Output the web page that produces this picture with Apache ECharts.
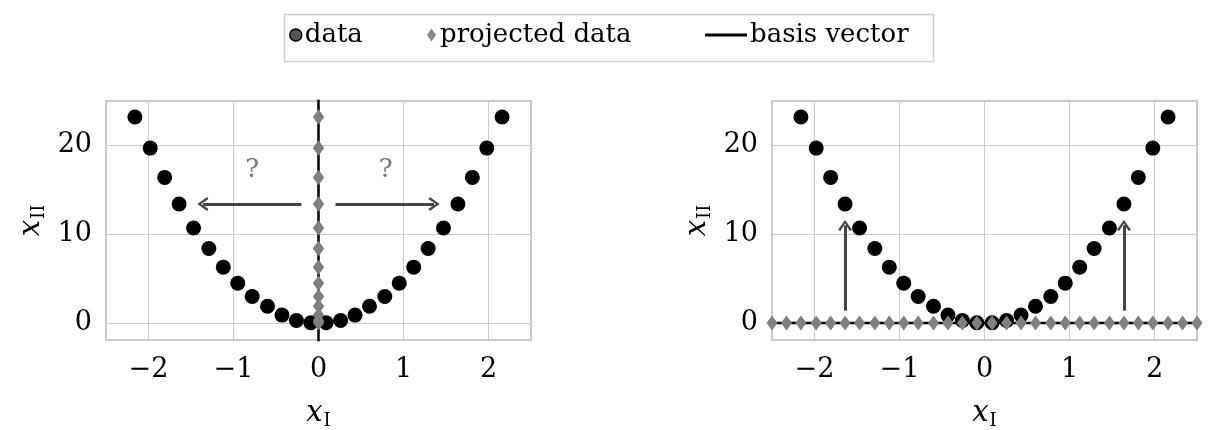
<!DOCTYPE html>
<html>
<head>
<meta charset="utf-8">
<script src="https://cdn.jsdelivr.net/npm/echarts@6/dist/echarts.min.js"></script>
<style>
  html, body { margin: 0; background: #fff; }
  #chart { width: 1215px; height: 430px; }
</style>
</head>
<body>
<div id="chart"></div>
<script>
// data (points above the axis top are clipped)
const xData = [-2.5, -2.33, -2.16, -1.98, -1.81, -1.64, -1.47, -1.29, -1.12, -0.95, -0.78, -0.6, -0.43, -0.26, -0.09,
  0.09, 0.26, 0.43, 0.6, 0.78, 0.95, 1.12, 1.29, 1.47, 1.64, 1.81, 1.98, 2.16, 2.33, 2.5]
const yData = [31.3, 27.1, 23.2, 19.7, 16.4, 13.4, 10.7, 8.4, 6.3, 4.5, 3.0, 1.9, 0.9, 0.3, 0.04,
  0.04, 0.3, 0.9, 1.9, 3.0, 4.5, 6.3, 8.4, 10.7, 13.4, 16.4, 19.7, 23.2, 27.1, 31.3]
const xTicks = [-2, -1, 0, 1, 2]
const yTicks = [0, 10, 20]
const xRange = [-2.5, 2.5]
const yRange = [-1.9, 25]

// basis vectors (left: vertical axis, right: horizontal axis)
const basisLeft = [[0, -5], [0, 40]]
const basisRight = [[-3, 0], [3, 0]]
// annotation arrows [from, to] and question marks
const leftArrows = [[[-0.2, 13.4], [-1.36, 13.4]], [[0.2, 13.4], [1.36, 13.4]]]
const rightArrows = [[[-1.64, 1.4], [-1.64, 11.0]], [[1.64, 1.4], [1.64, 11.0]]]
const questionPos = [[-0.78, 17.2], [0.79, 17.2]]

const font = 'DejaVu Serif'
const gridColor = '#cbcbcb'
const arrowHead = 'path://M0,10 L5,0 L10,10 L8.4,11.2 L5,3.6 L1.6,11.2 Z'

const chart = echarts.init(document.getElementById('chart'))

function fmt(v) {
  return v < 0 ? '\u2212' + Math.abs(v) : String(v)
}

const nameRich = {
  i: { fontFamily: font, fontStyle: 'italic', fontSize: 29, color: '#000' },
  s: { fontFamily: font, fontSize: 18, color: '#000', padding: [16, 0, 0, 1] }
}

function mainX(gi) {
  return {
    type: 'value', gridIndex: gi, min: xRange[0], max: xRange[1],
    name: '{i|x}{s|I}', nameLocation: 'middle', nameGap: 56,
    nameTextStyle: { rich: nameRich },
    axisLine: { show: false },
    axisTick: { show: true, inside: false, length: 11, customValues: xTicks, lineStyle: { color: gridColor } },
    axisLabel: { customValues: xTicks, formatter: fmt, margin: 16, fontFamily: font, fontSize: 27, color: '#000' },
    splitLine: { show: true, lineStyle: { color: gridColor, width: 1 } }
  }
}

function topX(gi) {
  return {
    type: 'value', gridIndex: gi, min: xRange[0], max: xRange[1], position: 'top',
    axisLine: { show: false },
    axisTick: { show: true, inside: false, length: 11, customValues: xTicks, lineStyle: { color: gridColor } },
    axisLabel: { show: false, customValues: xTicks },
    splitLine: { show: false }
  }
}

function mainY(gi) {
  return {
    type: 'value', gridIndex: gi, min: yRange[0], max: yRange[1],
    name: '{i|x}{s|II}', nameLocation: 'middle', nameGap: 58,
    nameTextStyle: { rich: nameRich },
    axisLine: { show: false },
    axisTick: { show: true, inside: false, length: 11, customValues: yTicks, lineStyle: { color: gridColor } },
    axisLabel: { customValues: yTicks, formatter: fmt, margin: 14, fontFamily: font, fontSize: 27, color: '#000' },
    splitLine: { show: true, lineStyle: { color: gridColor, width: 1 } }
  }
}

function rightY(gi) {
  return {
    type: 'value', gridIndex: gi, min: yRange[0], max: yRange[1], position: 'right',
    axisLine: { show: false },
    axisTick: { show: true, inside: false, length: 11, customValues: yTicks, lineStyle: { color: gridColor } },
    axisLabel: { show: false, customValues: yTicks },
    splitLine: { show: false }
  }
}

function arrowLines(list) {
  return {
    silent: true,
    symbol: ['none', arrowHead],
    symbolSize: [14, 11],
    label: { show: false },
    lineStyle: { color: '#444', width: 3, type: 'solid' },
    emphasis: { disabled: true },
    animation: false,
    data: list.map(a => [{ coord: a[0] }, { coord: a[1] }])
  }
}

const dataPoints = xData.map((x, i) => [x, yData[i]])
const projLeft = yData.map(y => [0, y])
const projRight = xData.map(x => [x, 0])

const dataSeries = (gi, extra) => Object.assign({
  name: 'data', type: 'scatter', xAxisIndex: gi * 2, yAxisIndex: gi * 2,
  data: dataPoints, symbol: 'circle', symbolSize: 15, clip: true, z: 2,
  itemStyle: { color: '#000', opacity: 1 }
}, extra)

const legendText = { fontFamily: font, fontSize: 26, color: '#000' }

const option = {
  animation: false,
  legend: [
    {
      left: 289, top: 22, selectedMode: false, itemWidth: 12, itemHeight: 12, padding: 0,
      textStyle: Object.assign({ padding: [0, 0, 0, -2] }, legendText),
      data: [{ name: 'data', icon: 'circle', itemStyle: { color: '#555', borderColor: '#000', borderWidth: 1.5 } }]
    },
    {
      left: 427, top: 22, selectedMode: false, itemWidth: 9, itemHeight: 13, padding: 0,
      textStyle: Object.assign({ padding: [0, 0, 0, -1] }, legendText),
      data: [{ name: 'projected data', icon: 'diamond', itemStyle: { color: '#8a8a8a', borderWidth: 0 } }]
    },
    {
      left: 705, top: 22, selectedMode: false, itemWidth: 42, itemHeight: 3, padding: 0,
      textStyle: Object.assign({ padding: [0, 0, 0, -2] }, legendText),
      data: [{ name: 'basis vector', icon: 'rect', itemStyle: { color: '#000' } }]
    }
  ],
  graphic: [{
    type: 'rect', left: 282, top: 12, silent: true,
    shape: { width: 649, height: 47 },
    style: { fill: 'none', stroke: '#cfcfcf', lineWidth: 1.5 }
  }],
  grid: [
    { left: 106, top: 101, width: 425, height: 239, show: true, outerBoundsMode: 'none', containLabel: false,
      borderColor: gridColor, borderWidth: 2, backgroundColor: 'transparent' },
    { left: 772, top: 101, width: 425, height: 239, show: true, outerBoundsMode: 'none', containLabel: false,
      borderColor: gridColor, borderWidth: 2, backgroundColor: 'transparent' }
  ],
  xAxis: [mainX(0), topX(0), mainX(1), topX(1)],
  yAxis: [mainY(0), rightY(0), mainY(1), rightY(1)],
  series: [
    // left panel
    dataSeries(0, {
      markLine: arrowLines(leftArrows),
      markPoint: {
        symbol: 'circle', symbolSize: 0, silent: true,
        label: { show: true, formatter: '?', fontFamily: font, fontSize: 26, color: '#777', position: 'inside' },
        data: questionPos.map(p => ({ coord: p }))
      }
    }),
    {
      name: 'basis vector', type: 'line', xAxisIndex: 0, yAxisIndex: 0,
      data: basisLeft, symbol: 'none', clip: true, z: 3,
      lineStyle: { color: '#000', width: 2.5 }, itemStyle: { color: '#000' }
    },
    {
      name: 'projected data', type: 'scatter', xAxisIndex: 0, yAxisIndex: 0,
      data: projLeft, symbol: 'diamond', symbolSize: [11, 15], clip: true, z: 4,
      itemStyle: { color: '#808080', opacity: 1 }
    },
    // right panel
    dataSeries(1, { markLine: arrowLines(rightArrows) }),
    {
      name: 'basis vector', type: 'line', xAxisIndex: 2, yAxisIndex: 2,
      data: basisRight, symbol: 'none', clip: true, z: 3,
      lineStyle: { color: '#000', width: 2.5 }, itemStyle: { color: '#000' }
    },
    {
      name: 'projected data', type: 'scatter', xAxisIndex: 2, yAxisIndex: 2,
      data: projRight, symbol: 'diamond', symbolSize: [11, 15], clip: false, z: 4,
      itemStyle: { color: '#808080', opacity: 1 }
    }
  ]
}

chart.setOption(option)
</script>
</body>
</html>
